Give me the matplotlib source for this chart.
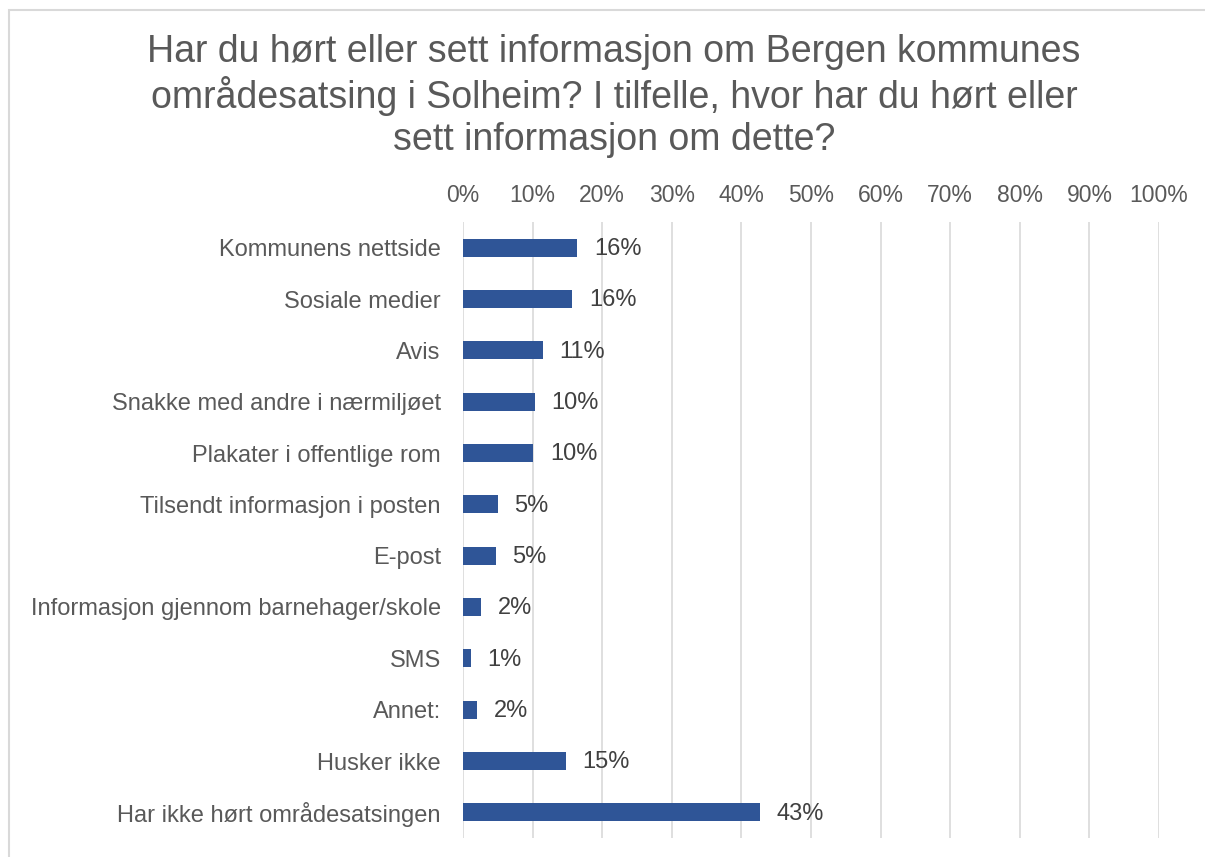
import matplotlib
matplotlib.use("Agg")
from matplotlib import pyplot as plt
from matplotlib.patches import Rectangle

plt.rcParams['font.family'] = ['Liberation Sans', 'DejaVu Sans']

categories = ["Kommunens nettside", "Sosiale medier", "Avis",
	"Snakke med andre i nærmiljøet", "Plakater i offentlige rom",
	"Tilsendt informasjon i posten", "E-post",
	"Informasjon gjennom barnehager/skole", "SMS", "Annet:",
	"Husker ikke", "Har ikke hørt områdesatsingen"]
values = [16.4, 15.7, 11.5, 10.3, 10.1, 5.0, 4.7, 2.6, 1.1, 2.0, 14.8, 42.7]
labels = ["16%", "16%", "11%", "10%", "10%", "5%", "5%", "2%", "1%", "2%", "15%", "43%"]
ticks = list(range(0, 101, 10))
title = ("Har du hørt eller sett informasjon om Bergen kommunes\n"
	"områdesatsing i Solheim? I tilfelle, hvor har du hørt eller\n"
	"sett informasjon om dette?")

fig = plt.figure(figsize=(12.05, 8.57), dpi=100)
# chart frame, only the top and left edges fall inside the picture
fig.patches.append(Rectangle((8.5/1205, -0.05), 1.1, 1 - 9.5/857 + 0.05,
	transform=fig.transFigure, fill=False, edgecolor="#D9D9D9", linewidth=1.5))

ax = fig.add_axes([463/1205, 19/857, 696/1205, 616/857])
y = list(range(len(categories)))
ax.barh(y, values, height=0.35, color="#2F5597")
for i in y:
	ax.annotate(labels[i], (values[i], i), xytext=(12, -1), textcoords="offset points",
		va="center", ha="left", fontsize=17, color="#404040")

ax.set_xlim(0, 100)
ax.set_ylim(len(categories) - 0.5, -0.5)
ax.set_xticks(ticks)
ax.set_xticklabels([f"{t}%" for t in ticks])
ax.set_yticks(y)
ax.set_yticklabels(categories)
ax.xaxis.tick_top()
ax.tick_params(axis="x", length=0, pad=11, labelsize=16.5, labelcolor="#595959")
ax.tick_params(axis="y", length=0, pad=16, labelsize=17, labelcolor="#595959")
ax.grid(axis="x", color="#D9D9D9", linewidth=1.2)
ax.set_axisbelow(True)
for s in ax.spines.values():
	s.set_visible(False)

fig.text(614/1205, 1 - 96/857, title, ha="center", va="center",
	fontsize=27, color="#595959", linespacing=1.19)

fig.savefig("out.png", dpi=100)
